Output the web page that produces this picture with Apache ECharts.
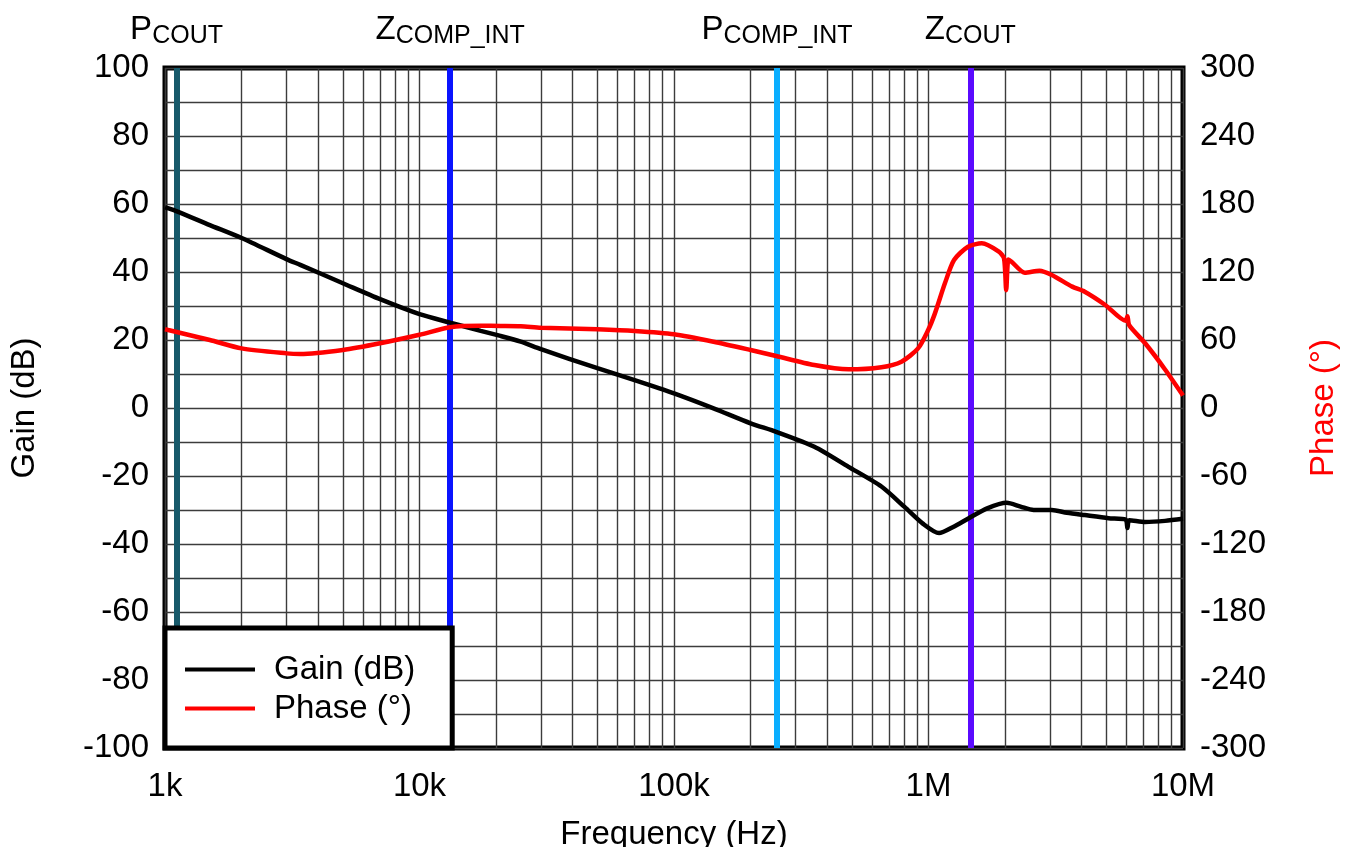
<!DOCTYPE html>
<html>
<head>
<meta charset="utf-8">
<script src="https://cdn.jsdelivr.net/npm/echarts@6/dist/echarts.min.js"></script>
<style>
  html, body { margin: 0; padding: 0; background: #fff; }
  #chart { width: 1351px; height: 847px; }
</style>
</head>
<body>
<div id="chart"></div>
<script>
// Loop gain / phase of the compensated converter, frequency in Hz
const gainFreq = [1000, 1100, 1500, 2000, 3000, 3400, 5000, 7000, 10000, 13200, 17400, 20800, 25000, 30000, 50000, 70000, 100000, 143000, 200000, 252000, 356000, 485000, 653000, 805000, 950000, 1100000, 1250000, 1440000, 1700000, 2030000, 2300000, 2590000, 3050000, 3500000, 4110000, 5100000, 5950000, 6050000, 6150000, 7100000, 8500000, 10000000];
const gainDb   = [59, 58, 53.8, 50, 43.8, 42.1, 36.7, 32, 27.6, 25.1, 22.7, 21.2, 19.5, 17.3, 11.7, 8.2, 4.3, -0.1, -4.5, -7, -11.4, -17.3, -23.1, -29.1, -34, -36.8, -35, -32.4, -29.5, -27.9, -29, -30, -30, -30.8, -31.5, -32.4, -32.8, -35.3, -33, -33.5, -33.2, -32.6];

const phaseFreq = [1000, 1030, 1500, 2000, 3000, 3400, 5000, 7000, 10000, 13200, 17400, 20800, 25000, 30000, 50000, 70000, 100000, 143000, 200000, 252000, 356000, 485000, 653000, 783000, 910000, 997000, 1060000, 1160000, 1260000, 1430000, 1620000, 1890000, 1980000, 2020000, 2060000, 2120000, 2390000, 2730000, 3050000, 3670000, 4110000, 4950000, 5950000, 6050000, 6150000, 7100000, 8500000, 10000000];
const phaseDeg  = [69.5, 68.8, 60, 52.6, 48.2, 47.6, 51.2, 57.1, 64.6, 71.2, 72.5, 72.4, 72.2, 70.9, 69.4, 67.9, 65, 58.5, 51.2, 45.9, 37.9, 34.1, 36, 40.9, 52.6, 68.8, 83.5, 110, 130.6, 142.3, 145.3, 137.9, 132, 104, 131, 129.1, 119.4, 121.2, 117.4, 107.1, 102.6, 90.9, 77, 81, 73, 57.1, 34, 11];

// Pole / zero markers
const markerFreq  = [1110, 13200, 254000, 1460000];
const markerMain  = ['P', 'Z', 'P', 'Z'];
const markerSub   = ['COUT', 'COMP_INT', 'COMP_INT', 'COUT'];
const markerColor = ['#17596A', '#0A14FF', '#0AAEFF', '#5A0AFF'];

// Axis ticks
const freqTicks  = [1000, 10000, 100000, 1000000, 10000000];
const freqLabels = ['1k', '10k', '100k', '1M', '10M'];
const minorFreqs = [];
for (let d = 1000; d < 10000000; d *= 10) {
  for (let k = 2; k <= 9; k++) minorFreqs.push(d * k);
}

const FONT = 'Liberation Sans, Arial, sans-serif';
const FS = 33;
const gridColor = '#3c3c3c';

const chart = echarts.init(document.getElementById('chart'), null, { renderer: 'canvas' });

const pairs = (xs, ys) => xs.map((x, i) => [x, ys[i]]);

const option = {
  backgroundColor: '#fff',
  animation: false,
  textStyle: { fontFamily: FONT },
  grid: {
    left: 165, right: 168, top: 68, bottom: 99,
    outerBoundsMode: 'none', containLabel: false,
    show: true, borderColor: '#000', borderWidth: 5, backgroundColor: 'transparent'
  },
  legend: {
    data: ['Gain (dB)', 'Phase (°)'],
    orient: 'vertical',
    left: 165, bottom: 99,
    icon: 'rect', itemWidth: 70, itemHeight: 4, itemGap: 6,
    padding: [25, 37, 23, 20],
    backgroundColor: '#fff', borderColor: '#000', borderWidth: 5,
    textStyle: { fontFamily: FONT, fontSize: FS, color: '#000', padding: [0, 0, 0, 14] },
    z: 10
  },
  xAxis: {
    type: 'log', logBase: 10, min: 1000, max: 10000000,
    name: 'Frequency (Hz)', nameLocation: 'middle', nameGap: 70,
    nameTextStyle: { fontFamily: FONT, fontSize: FS, color: '#000' },
    axisLine: { show: false },
    axisTick: { show: false },
    axisLabel: {
      fontFamily: FONT, fontSize: FS, color: '#000', margin: 22,
      formatter: v => {
        const i = freqTicks.findIndex(t => Math.abs(Math.log10(t) - Math.log10(v)) < 1e-6);
        return i >= 0 ? freqLabels[i] : '';
      }
    },
    splitLine: { show: true, lineStyle: { color: gridColor, width: 1.4 } }
  },
  yAxis: [
    {
      type: 'value', min: -100, max: 100, interval: 20,
      name: 'Gain (dB)', nameLocation: 'middle', nameGap: 124, nameRotate: 90,
      nameTextStyle: { fontFamily: FONT, fontSize: FS, color: '#000' },
      axisLine: { show: false }, axisTick: { show: false },
      axisLabel: { fontFamily: FONT, fontSize: FS, color: '#000', margin: 16 },
      splitLine: { show: true, lineStyle: { color: gridColor, width: 1.4 } },
      minorTick: { show: false, splitNumber: 2 },
      minorSplitLine: { show: true, lineStyle: { color: gridColor, width: 1.4 } }
    },
    {
      type: 'value', min: -300, max: 300, interval: 60, position: 'right',
      name: 'Phase (°)', nameLocation: 'middle', nameGap: 124, nameRotate: 90,
      nameTextStyle: { fontFamily: FONT, fontSize: FS, color: '#FF0000' },
      axisLine: { show: false }, axisTick: { show: false },
      axisLabel: { fontFamily: FONT, fontSize: FS, color: '#000', margin: 17 },
      splitLine: { show: false }
    }
  ],
  series: [
    {
      // minor frequency grid (2..9 per decade)
      name: 'minorGrid', type: 'line', data: [], silent: true, z: 1,
      markLine: {
        silent: true, symbol: 'none', animation: false,
        label: { show: false },
        lineStyle: { color: gridColor, width: 1.4, type: 'solid' },
        data: minorFreqs.map(f => ({ xAxis: f }))
      }
    },
    {
      // pole / zero markers
      name: 'markers', type: 'line', data: [], silent: true, z: 3,
      markLine: {
        silent: true, symbol: 'none', animation: false,
        data: markerFreq.map((f, i) => ({
          xAxis: f,
          lineStyle: { color: markerColor[i], width: 6, type: 'solid' },
          label: {
            show: true, position: 'end', distance: 19,
            formatter: '{m|' + markerMain[i] + '}{s|' + markerSub[i] + '}',
            rich: {
              m: { fontFamily: FONT, fontSize: 33, color: '#000', verticalAlign: 'top', lineHeight: 36 },
              s: { fontFamily: FONT, fontSize: 25, color: '#000', verticalAlign: 'bottom', lineHeight: 36 }
            }
          }
        }))
      }
    },
    {
      name: 'Gain (dB)', type: 'line', yAxisIndex: 0,
      data: pairs(gainFreq, gainDb),
      showSymbol: false, smooth: 0.25, z: 5,
      lineStyle: { color: '#000', width: 4.5 }, itemStyle: { color: '#000' }
    },
    {
      name: 'Phase (°)', type: 'line', yAxisIndex: 1,
      data: pairs(phaseFreq, phaseDeg),
      showSymbol: false, smooth: 0.25, z: 5,
      lineStyle: { color: '#FF0000', width: 4.5 }, itemStyle: { color: '#FF0000' }
    }
  ]
};

chart.setOption(option);
</script>
</body>
</html>
